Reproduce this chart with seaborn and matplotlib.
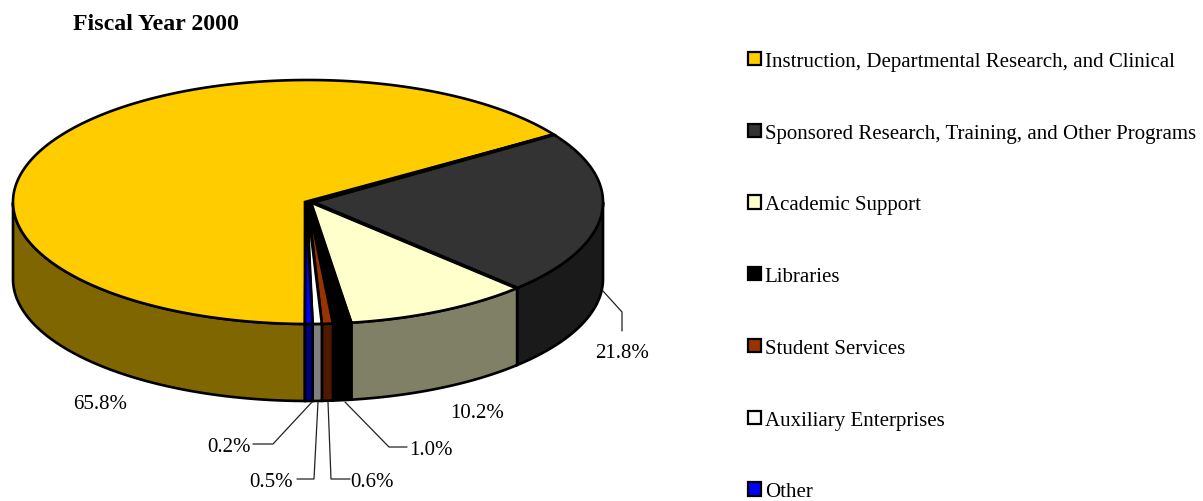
import numpy as np
import matplotlib
matplotlib.use("Agg")
import matplotlib.pyplot as plt
from matplotlib.patches import Patch
import seaborn as sns

categories = ["Instruction, Departmental Research, and Clinical",
              "Sponsored Research, Training, and Other Programs",
              "Academic Support", "Libraries", "Student Services",
              "Auxiliary Enterprises", "Other"]
values = [65.8, 21.8, 10.2, 1.0, 0.6, 0.5, 0.2]
value_labels = ["65.8%", "21.8%", "10.2%", "1.0%", "0.6%", "0.5%", "0.2%"]

top_colors = ["#FFCC00", "#333333", "#FFFFCC", "#000000", "#993300", "#FFFFFF", "#0000FF"]
side_colors = ["#806600", "#1A1A1A", "#808066", "#000000", "#4D1A00", "#808080", "#000080"]

# pie geometry in pixels
CX, CY = 308, 203
RX, RY = 295, 122
DEPTH = 77
START = 269.4
MIN_SWEEP = 1.5  # thinnest slice still has to show its colour
apex_x = [305, 313, 311, 309, 308, 307, 306]

# label centres and leader lines, same order as values
label_pos = [(100, 402), (622, 351), (477, 411), (431, 448), (372, 480), (271, 480), (229, 445)]
leaders = [None,
           [(603, 292), (622, 313), (622, 332)],
           None,
           [(345, 403), (389, 448), (407, 448)],
           [(328, 403), (331, 480), (350, 480)],
           [(318, 403), (314, 480), (297, 480)],
           [(312, 403), (273, 445), (253, 445)]]

sns.set_theme(style="white")
plt.rcParams["font.family"] = ["Liberation Serif", "DejaVu Serif"]

fig = plt.figure(figsize=(12.03, 5.02), dpi=100)
ax = fig.add_axes([0, 0, 1, 1])
ax.set_xlim(0, 1203)
ax.set_ylim(502, 0)
ax.axis("off")

sweeps = np.array(values) / sum(values) * 360
sweeps = np.maximum(sweeps, MIN_SWEEP)
sweeps[0] -= sweeps.sum() - 360
ends = START - np.cumsum(sweeps)
starts = ends + sweeps
LW = 1.9

# side walls first
for i in range(len(values)):
    t = np.radians(np.linspace(starts[i], ends[i], 300))
    front = np.sin(t) <= 0
    if front.any():
        x = CX + RX * np.cos(t[front])
        y = CY - RY * np.sin(t[front])
        ax.fill(np.r_[x, x[::-1]], np.r_[y, y[::-1] + DEPTH],
                facecolor=side_colors[i], edgecolor="black", lw=LW, joinstyle="miter")

# top faces
for i in range(len(values)):
    t = np.radians(np.linspace(starts[i], ends[i], 300))
    x = CX + RX * np.cos(t)
    y = CY - RY * np.sin(t)
    ax.fill(np.r_[apex_x[i], x], np.r_[CY, y],
            facecolor=top_colors[i], edgecolor="black", lw=LW, joinstyle="miter")
    # the big slices have heavier borders
    if i < 2:
        ax.plot([apex_x[i + 1], x[-1]], [CY, y[-1]], color="black", lw=2.6,
                solid_capstyle="butt")

for i, lab in enumerate(value_labels):
    ax.text(label_pos[i][0], label_pos[i][1] + 2.5, lab, ha="center", va="center",
            fontsize=15.0, color="black")
    if leaders[i] is not None:
        ax.plot(*zip(*leaders[i]), color="#222222", lw=0.9)

ax.text(73, 25, "Fiscal Year 2000", fontsize=17.2, fontweight="bold",
        ha="left", va="center", color="black")

handles = [Patch(facecolor=c, edgecolor="black", lw=1.6) for c in top_colors]
ax.legend(handles, categories, loc="upper left",
          bbox_to_anchor=(748 / 1203, 1 - 53 / 502), frameon=False,
          fontsize=15.0, labelspacing=2.53, handlelength=0.6, handleheight=0.6,
          handletextpad=0.2, borderpad=0, borderaxespad=0, labelcolor="black")

fig.savefig("out.png", dpi=100)
